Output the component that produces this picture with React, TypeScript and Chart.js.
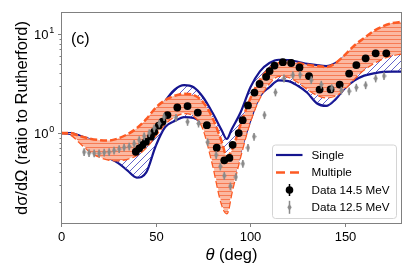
import React, { useEffect, useRef } from "react";
import { Chart, registerables } from "chart.js";

Chart.register(...registerables);

// ---------- data ----------
const thetaModel = [0, 5, 10, 15, 20, 25, 30, 35, 40, 45, 50, 55, 60, 65, 70, 75, 80, 85, 87.5, 90, 95, 100, 105, 110, 115, 120, 125, 130, 135, 140, 145, 150, 155, 160, 165, 170, 175, 180];
const singleUpper = [1.0, 1.0, 0.94, 0.87, 0.8, 0.75, 0.73, 0.76, 0.84, 1.02, 1.42, 2.1, 2.75, 3.05, 2.9, 2.3, 1.6, 1.05, 0.87, 1.08, 1.65, 2.9, 4.2, 5.1, 5.5, 5.45, 5.25, 5.0, 4.85, 4.75, 5.1, 6.0, 7.3, 8.6, 10.0, 11.3, 12.2, 12.7];
const singleLower = [1.0, 0.98, 0.86, 0.72, 0.62, 0.56, 0.5, 0.42, 0.355, 0.4, 0.74, 1.15, 1.32, 1.45, 1.42, 1.2, 0.74, 0.4, 0.28, 0.31, 0.67, 1.35, 2.35, 2.9, 3.4, 3.35, 3.0, 2.55, 2.0, 1.88, 2.2, 2.85, 3.4, 3.8, 4.0, 4.15, 4.18, 4.18];
const multipleUpper = [1.0, 1.0, 0.93, 0.88, 0.85, 0.84, 0.88, 0.97, 1.12, 1.38, 1.8, 2.15, 2.38, 2.5, 2.42, 2.05, 1.42, 0.8, 0.58, 0.66, 1.25, 2.25, 3.45, 4.5, 5.1, 5.25, 5.1, 4.9, 4.75, 4.65, 5.1, 6.2, 7.7, 9.1, 10.7, 12.0, 12.9, 13.3];
const multipleLower = [1.0, 0.97, 0.8, 0.66, 0.58, 0.54, 0.53, 0.55, 0.6, 0.72, 0.95, 1.25, 1.48, 1.59, 1.5, 1.12, 0.5, 0.19, 0.155, 0.25, 0.62, 1.35, 2.3, 3.2, 3.8, 3.7, 3.3, 2.8, 2.45, 2.3, 2.4, 2.85, 3.6, 4.4, 5.1, 5.7, 6.1, 6.4];

const theta145 = [39.5, 41.3, 43.0, 44.8, 47.5, 49.2, 51.6, 53.6, 56.2, 61.4, 66.8, 72.2, 77.0, 82.2, 86.2, 88.9, 90.6, 93.8, 95.9, 98.7, 102.1, 104.8, 108.3, 110.1, 112.7, 117.1, 121.5, 125.9, 130.9, 136.5, 142.3, 147.1, 152.1, 155.9, 160.8, 166.1, 171.7];
const data145 = [0.647, 0.7, 0.757, 0.817, 0.918, 1.03, 1.19, 1.3, 1.52, 1.81, 1.87, 1.61, 1.2, 0.71, 0.53, 0.56, 0.76, 1.0, 1.35, 1.9, 2.56, 3.13, 3.7, 4.23, 4.8, 5.2, 5.1, 4.59, 3.76, 2.75, 2.76, 3.09, 3.99, 4.86, 5.68, 6.38, 6.38];

const theta125 = [12.2, 14.8, 17.5, 20.1, 22.8, 25.4, 28.0, 30.7, 33.3, 36.0, 38.6, 41.3, 43.9, 46.6, 49.2, 51.9, 54.4, 60.7, 66.8, 72.6, 77.4, 81.9, 84.1, 86.2, 89.4, 92.3, 96.0, 98.7, 101.9, 107.4, 113.2, 117.7, 122.4, 126.2, 132.1, 137.4, 142.9, 148.0, 152.1, 155.9, 160.8, 166.1, 170.5];
const data125 = [0.643, 0.628, 0.624, 0.624, 0.635, 0.643, 0.666, 0.689, 0.714, 0.73, 0.78, 0.85, 0.93, 1.0, 1.12, 1.25, 1.45, 1.43, 1.3, 1.25, 0.81, 0.6, 0.46, 0.37, 0.29, 0.36, 0.49, 0.71, 0.92, 1.52, 2.58, 3.57, 3.85, 3.88, 3.43, 3.09, 2.85, 2.69, 2.65, 2.88, 3.05, 3.57, 3.77];

const err145 = 0.05;
const err125 = 0.09;

const xTicks = [0, 50, 100, 150];
const yTicks = [1, 10];
const yTickExps = ["0", "1"];
const legendLabels = ["Single", "Multiple", "Data 14.5 MeV", "Data 12.5 MeV"];
const panelLabel = "(c)";
const xTitleSymbol = "θ";
const xTitleRest = " (deg)";
const yTitle = "dσ/dΩ (ratio to Rutherford)";

// ---------- style ----------
const BLUE = "#15158f";
const ORANGE = "#fd5a23";
const GRAY = "#8a8a8a";
const FRAME = "#808080";
const FONT = "'Liberation Sans', Arial, Helvetica, sans-serif";

function toXY(xs: number[], ys: number[]) {
  return xs.map((x, i) => ({ x, y: ys[i] }));
}

function makeDiamond(color: string) {
  const c = document.createElement("canvas");
  c.width = 5;
  c.height = 7;
  const g = c.getContext("2d")!;
  g.fillStyle = color;
  g.beginPath();
  g.moveTo(2.5, 0.2);
  g.lineTo(4.7, 3.5);
  g.lineTo(2.5, 6.8);
  g.lineTo(0.3, 3.5);
  g.closePath();
  g.fill();
  return c;
}

function makeBlueHatch(ctx: CanvasRenderingContext2D) {
  const n = 7;
  const c = document.createElement("canvas");
  c.width = n;
  c.height = n;
  const g = c.getContext("2d")!;
  g.strokeStyle = "rgba(50,50,185,0.9)";
  g.lineWidth = 0.85;
  g.beginPath();
  g.moveTo(0, n);
  g.lineTo(n, 0);
  g.moveTo(-1, 1);
  g.lineTo(1, -1);
  g.moveTo(n - 1, n + 1);
  g.lineTo(n + 1, n - 1);
  g.stroke();
  return ctx.createPattern(c, "repeat")!;
}

function makeOrangeHatch(ctx: CanvasRenderingContext2D) {
  const c = document.createElement("canvas");
  c.width = 8;
  c.height = 4;
  const g = c.getContext("2d")!;
  g.fillStyle = "#fbb8a1";
  g.fillRect(0, 0, 8, 4);
  g.strokeStyle = "#f67a53";
  g.lineWidth = 1;
  g.beginPath();
  g.moveTo(0, 3.5);
  g.lineTo(8, 3.5);
  g.stroke();
  return ctx.createPattern(c, "repeat")!;
}

const errorBarPlugin = {
  id: "errorBars",
  beforeDatasetDraw(chart: any, args: any) {
    const ds = chart.data.datasets[args.index];
    if (!ds.errRel) return;
    const { ctx, scales } = chart;
    const area = chart.chartArea;
    ctx.save();
    ctx.beginPath();
    ctx.rect(area.left, area.top, area.right - area.left, area.bottom - area.top);
    ctx.clip();
    ctx.strokeStyle = ds.errColor;
    ctx.lineWidth = ds.errWidth;
    for (const p of ds.data) {
      const px = scales.x.getPixelForValue(p.x);
      const y1 = scales.y.getPixelForValue(p.y * (1 + ds.errRel));
      const y2 = scales.y.getPixelForValue(p.y * (1 - ds.errRel));
      ctx.beginPath();
      ctx.moveTo(px, y1);
      ctx.lineTo(px, y2);
      ctx.stroke();
    }
    ctx.restore();
  },
};

const decorPlugin = {
  id: "decor",
  afterDraw(chart: any) {
    const { ctx, chartArea: a, scales } = chart;
    const diamond = chart.$diamond;
    ctx.save();
    // frame
    ctx.strokeStyle = FRAME;
    ctx.lineWidth = 1;
    const L = Math.round(a.left) + 0.5;
    const R = Math.round(a.right) - 0.5;
    const T = Math.round(a.top) + 0.5;
    const B = Math.round(a.bottom) - 0.5;
    ctx.strokeRect(L, T, R - L, B - T);

    // x ticks
    ctx.fillStyle = "#000";
    ctx.font = `13px ${FONT}`;
    ctx.textAlign = "center";
    ctx.textBaseline = "alphabetic";
    for (const v of xTicks) {
      const px = Math.round(scales.x.getPixelForValue(v)) + 0.5;
      ctx.beginPath();
      ctx.moveTo(px, B);
      ctx.lineTo(px, B + 3.5);
      ctx.stroke();
      ctx.fillText(String(v), px, 241);
    }

    // y minor ticks
    const ymin = scales.y.min;
    const ymax = scales.y.max;
    for (let e = -1; e <= 1; e++) {
      for (let k = 2; k <= 9; k++) {
        const v = k * Math.pow(10, e);
        if (v < ymin || v > ymax) continue;
        const py = Math.round(scales.y.getPixelForValue(v)) + 0.5;
        ctx.beginPath();
        ctx.moveTo(L - 2, py);
        ctx.lineTo(L, py);
        ctx.stroke();
      }
    }
    // y major ticks + labels
    yTicks.forEach((v, i) => {
      const py = Math.round(scales.y.getPixelForValue(v)) + 0.5;
      ctx.beginPath();
      ctx.moveTo(L - 3.5, py);
      ctx.lineTo(L, py);
      ctx.stroke();
      ctx.font = `13px ${FONT}`;
      ctx.textAlign = "right";
      ctx.fillText("10", 48.5, py + 4.7);
      ctx.font = `9px ${FONT}`;
      ctx.textAlign = "left";
      ctx.fillText(yTickExps[i], 49.3, py - 1.5);
    });

    // axis titles
    ctx.font = `16.5px ${FONT}`;
    ctx.textAlign = "center";
    ctx.save();
    ctx.translate(27, (a.top + a.bottom) / 2);
    ctx.rotate(-Math.PI / 2);
    ctx.fillText(yTitle, 0, 0);
    ctx.restore();

    const itFont = `italic 16.5px ${FONT}`;
    const nFont = `16.5px ${FONT}`;
    ctx.font = itFont;
    const w1 = ctx.measureText(xTitleSymbol).width;
    ctx.font = nFont;
    const w2 = ctx.measureText(xTitleRest).width;
    const cx = (a.left + a.right) / 2;
    const sx = cx - (w1 + w2) / 2;
    ctx.textAlign = "left";
    ctx.font = itFont;
    ctx.fillText(xTitleSymbol, sx, 259.5);
    ctx.font = nFont;
    ctx.fillText(xTitleRest, sx + w1, 259.5);

    // panel label
    ctx.font = `16px ${FONT}`;
    ctx.fillText(panelLabel, 71, 43.5);

    // legend
    const lx = 272.5, ly = 145, lw = 124, lh = 73.5, r = 3;
    ctx.beginPath();
    ctx.moveTo(lx + r, ly);
    ctx.arcTo(lx + lw, ly, lx + lw, ly + lh, r);
    ctx.arcTo(lx + lw, ly + lh, lx, ly + lh, r);
    ctx.arcTo(lx, ly + lh, lx, ly, r);
    ctx.arcTo(lx, ly, lx + lw, ly, r);
    ctx.closePath();
    ctx.fillStyle = "rgba(255,255,255,0.85)";
    ctx.fill();
    ctx.strokeStyle = "#d4d4d4";
    ctx.lineWidth = 1;
    ctx.stroke();

    const rows = [155, 172.5, 190, 207.3];
    const hx0 = 276, hx1 = 302.5, hc = 289.5;
    // Single
    ctx.strokeStyle = BLUE;
    ctx.lineWidth = 2.2;
    ctx.beginPath();
    ctx.moveTo(hx0, rows[0]);
    ctx.lineTo(hx1, rows[0]);
    ctx.stroke();
    // Multiple
    ctx.strokeStyle = ORANGE;
    ctx.lineWidth = 2.5;
    ctx.setLineDash([9, 5]);
    ctx.beginPath();
    ctx.moveTo(hx0, rows[1]);
    ctx.lineTo(hx1, rows[1]);
    ctx.stroke();
    ctx.setLineDash([]);
    // Data 14.5
    ctx.strokeStyle = "#000";
    ctx.lineWidth = 1.5;
    ctx.beginPath();
    ctx.moveTo(hc, rows[2] - 6);
    ctx.lineTo(hc, rows[2] + 6);
    ctx.stroke();
    ctx.fillStyle = "#000";
    ctx.beginPath();
    ctx.arc(hc, rows[2], 3.8, 0, Math.PI * 2);
    ctx.fill();
    // Data 12.5
    ctx.strokeStyle = GRAY;
    ctx.beginPath();
    ctx.moveTo(hc, rows[3] - 6.5);
    ctx.lineTo(hc, rows[3] + 6.5);
    ctx.stroke();
    if (diamond) ctx.drawImage(diamond, hc - diamond.width / 2, rows[3] - diamond.height / 2);

    ctx.fillStyle = "#000";
    ctx.font = `11.7px ${FONT}`;
    ctx.textAlign = "left";
    ctx.textBaseline = "middle";
    legendLabels.forEach((t, i) => ctx.fillText(t, 311.5, rows[i] + 0.5));
    ctx.restore();
  },
};

export default function App() {
  const ref = useRef<HTMLCanvasElement>(null);
  useEffect(() => {
    const canvas = ref.current!;
    const ctx = canvas.getContext("2d")!;
    const diamond = makeDiamond(GRAY);
    const blueHatch = makeBlueHatch(ctx);
    const orangeHatch = makeOrangeHatch(ctx);
    const chart = new Chart(ctx, {
      type: "line",
      data: {
        datasets: [
          {
            label: legendLabels[3],
            data: toXY(theta125, data125),
            showLine: false,
            pointStyle: diamond as any,
            pointRadius: 3.5,
            pointBackgroundColor: GRAY,
            pointBorderWidth: 0,
            errRel: err125,
            errColor: GRAY,
            errWidth: 1.5,
          } as any,
          {
            label: legendLabels[2],
            data: toXY(theta145, data145),
            showLine: false,
            pointStyle: "circle",
            pointRadius: 3.9,
            pointBackgroundColor: "#000",
            pointBorderWidth: 0,
            errRel: err145,
            errColor: "#000",
            errWidth: 1.2,
          } as any,
          {
            label: legendLabels[1],
            data: toXY(thetaModel, multipleUpper),
            borderColor: ORANGE,
            borderWidth: 2.5,
            borderDash: [7, 3],
            pointRadius: 0,
            fill: "+1",
            backgroundColor: orangeHatch,
            cubicInterpolationMode: "monotone",
          },
          {
            label: legendLabels[1] + " lower",
            data: toXY(thetaModel, multipleLower),
            borderColor: ORANGE,
            borderWidth: 2.5,
            borderDash: [7, 3],
            pointRadius: 0,
            fill: false,
            cubicInterpolationMode: "monotone",
          },
          {
            label: legendLabels[0],
            data: toXY(thetaModel, singleUpper),
            borderColor: BLUE,
            borderWidth: 2.2,
            pointRadius: 0,
            fill: "+1",
            backgroundColor: blueHatch,
            cubicInterpolationMode: "monotone",
          },
          {
            label: legendLabels[0] + " lower",
            data: toXY(thetaModel, singleLower),
            borderColor: BLUE,
            borderWidth: 2.2,
            pointRadius: 0,
            fill: false,
            cubicInterpolationMode: "monotone",
          },
        ],
      },
      options: {
        responsive: false,
        animation: false,
        devicePixelRatio: 1,
        layout: { padding: { left: 61, top: 12, right: 13, bottom: 53 } },
        scales: {
          x: { type: "linear", min: 0, max: 180, display: false },
          y: { type: "logarithmic", min: 0.1205, max: 16.7, display: false },
        },
        plugins: {
          legend: { display: false },
          tooltip: { enabled: false },
        },
        events: [],
      },
      plugins: [errorBarPlugin, decorPlugin],
    } as any);
    (chart as any).$diamond = diamond;
    chart.draw();
    return () => chart.destroy();
  }, []);
  return (
    <canvas
      ref={ref}
      width={415}
      height={277}
      style={{ position: "absolute", left: 0, top: 0, width: 415, height: 277, display: "block" }}
    />
  );
}
